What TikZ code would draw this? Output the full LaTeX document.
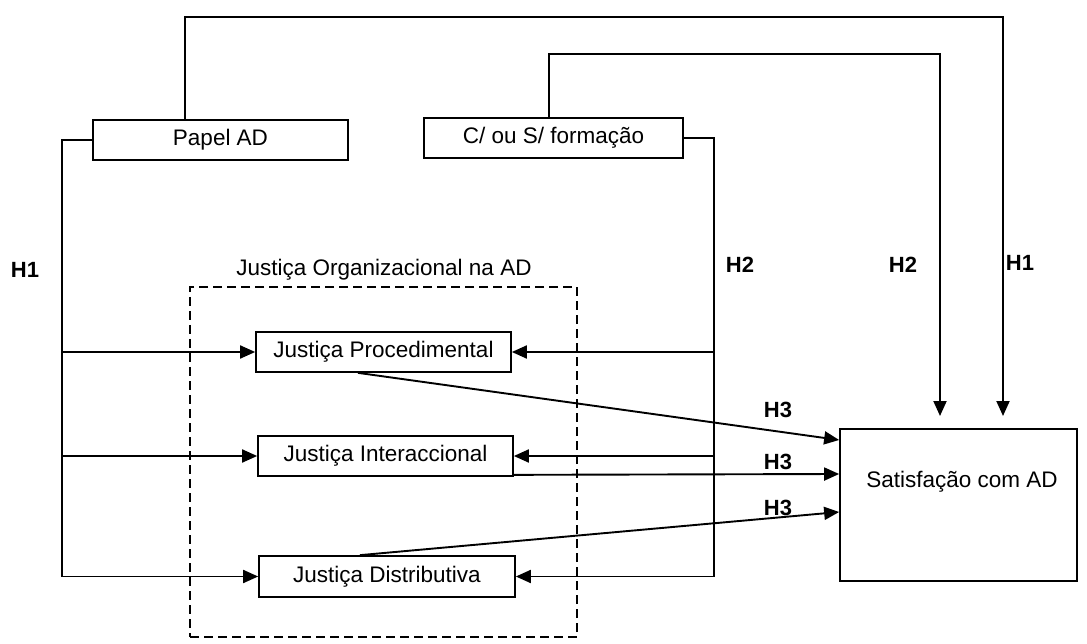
\documentclass[tikz,border=0pt]{standalone}
\usepackage{fontspec}
\setmainfont{Liberation Sans}
\usetikzlibrary{arrows.meta}
\tikzset{
  box/.style={draw, line width=1.7pt, minimum width=255pt, minimum height=40pt, inner sep=0pt, font=\fontsize{22.5}{26}\selectfont},
  txt/.style={inner sep=0pt, font=\fontsize{22.5}{26}\selectfont},
  hlab/.style={inner sep=0pt, font=\fontsize{22}{25}\selectfont\bfseries},
  conn/.style={line width=1.9pt},
  arr/.style={conn, -{Triangle[length=15pt,width=13pt]}},
  orgbox/.style={draw, dashed, dash pattern=on 9pt off 5pt, line width=1.6pt, minimum width=387pt, minimum height=350pt, inner sep=0pt}
}
\begin{document}
\begin{tikzpicture}[x=1pt,y=-1pt]
\useasboundingbox (0,0) rectangle (1087,644);
% boxes
\node[box] (papel) at (220.5,140) {Papel AD};
\node[box, minimum width=259pt] (cs) at (553.5,138) {C/ ou S/ formação};
\node[orgbox] (org) at (383.5,462) {};
\node[txt] (orgt) at (384,270) {Justiça Organizacional na AD};
\node[box] (proc) at (383.5,352) {Justiça Procedimental};
\node[box] (inter) at (385.5,456) {Justiça Interaccional};
\node[box, minimum width=256pt, minimum height=41pt] (dist) at (387,576.5) {Justiça Distributiva};
\node[box, minimum width=237pt, minimum height=152pt] (sat) at (958.5,505) {};
\node[txt] (satt) at (962,482) {Satisfação com AD};
% coordinates
\coordinate (lbus) at (62,0);
\coordinate (rbus) at (714,0);
\coordinate (o1) at (185,17);
\coordinate (o2) at (1003,17);
\coordinate (h1end) at (1003,416);
\coordinate (i1) at (549,54);
\coordinate (i2) at (940,54);
\coordinate (h2end) at (940,416);
% left bus (H1)
\draw[conn] (papel.west) -- (lbus |- papel.west) -- (lbus |- dist.west);
\draw[arr] (lbus |- proc.west) -- (proc.west);
\draw[arr] (lbus |- inter.west) -- (inter.west);
\draw[arr] (lbus |- dist.west) -- (dist.west);
% right bus (H2)
\draw[conn] (cs.east) -- (rbus |- cs.east) -- (rbus |- dist.east);
\draw[arr] (rbus |- proc.east) -- (proc.east);
\draw[arr] (rbus |- inter.east) -- (inter.east);
\draw[arr] (rbus |- dist.east) -- (dist.east);
% top loops
\draw[arr] (papel.north -| o1) -- (o1) -- (o2) -- (h1end);
\draw[arr] (cs.north -| i1) -- (i1) -- (i2) -- (h2end);
% H3 arrows
\draw[arr] ([xshift=-25.5pt]proc.south) -- ([yshift=65pt]sat.west);
\draw[arr] ([yshift=2pt]inter.south east) -- ([yshift=31pt]sat.west);
\draw[arr] ([xshift=-27pt]dist.north) -- ([yshift=-7pt]sat.west);
% labels
\node[hlab] (h1a) at (25,270) {H1};
\node[hlab] (h2a) at (740,265) {H2};
\node[hlab] (h2b) at (903,265) {H2};
\node[hlab] (h1b) at (1020,263) {H1};
\node[hlab] (h3a) at (778,410) {H3};
\node[hlab] (h3b) at (778,462) {H3};
\node[hlab] (h3c) at (778,508) {H3};
\end{tikzpicture}
\end{document}
